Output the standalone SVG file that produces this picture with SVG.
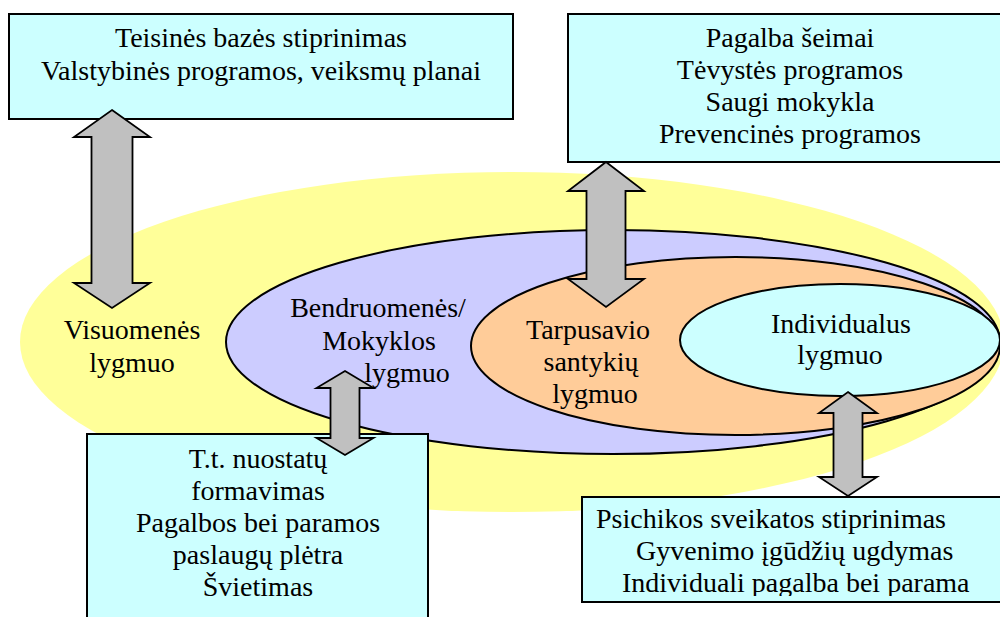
<svg xmlns="http://www.w3.org/2000/svg" width="1000" height="617" viewBox="0 0 1000 617">
<style>
.box{fill:#CCFFFF;stroke:#000;stroke-width:2}
.ell{stroke:#000;stroke-width:2}
.arr{fill:#C0C0C0;stroke:#000;stroke-width:1.8;stroke-linejoin:miter}
.t{font-family:'Liberation Serif','DejaVu Serif','Times New Roman',serif;font-size:28px;fill:#000}
.c{text-anchor:middle}
</style>
<defs>
<clipPath id="clipBR"><rect x="582" y="497" width="430" height="99"/></clipPath>
</defs>
<rect width="1000" height="617" fill="#fff"/>
<g id="levels">
<ellipse id="visuomenes" cx="512" cy="342" rx="492" ry="170" fill="#FFFF99"/>
<ellipse id="bendruomenes" class="ell" cx="613" cy="342" rx="387" ry="112" fill="#CCCCFF"/>
<ellipse id="tarpusavio" class="ell" cx="735.5" cy="346" rx="264.5" ry="89" fill="#FFCC99"/>
<ellipse id="individualus" class="ell" cx="840" cy="340" rx="160" ry="56" fill="#CCFFFF"/>
</g>
<g id="box-teisines">
<rect class="box" x="9" y="14" width="504" height="105"/>
<g class="t" font-family="Liberation Serif, DejaVu Serif, serif">
<text class="c" x="261" y="47">Teisinės bazės stiprinimas</text>
<text class="c" x="261" y="80">Valstybinės programos, veiksmų planai</text>
</g>
</g>
<g id="box-pagalba">
<rect class="box" x="568" y="14" width="445" height="148"/>
<g class="t" font-family="Liberation Serif, DejaVu Serif, serif">
<text class="c" x="790" y="47">Pagalba šeimai</text>
<text class="c" x="790" y="79">Tėvystės programos</text>
<text class="c" x="790" y="111">Saugi mokykla</text>
<text class="c" x="790" y="143">Prevencinės programos</text>
</g>
</g>
<g id="box-tt">
<rect class="box" x="87" y="434" width="341" height="200"/>
<g class="t" font-family="Liberation Serif, DejaVu Serif, serif">
<text class="c" x="258" y="468">T.t. nuostatų</text>
<text class="c" x="258" y="500">formavimas</text>
<text class="c" x="258" y="532">Pagalbos bei paramos</text>
<text class="c" x="258" y="564">paslaugų plėtra</text>
<text class="c" x="258" y="596">Švietimas</text>
</g>
</g>
<g id="box-psichikos">
<rect class="box" x="582" y="497" width="430" height="105"/>
<g clip-path="url(#clipBR)" class="t" font-family="Liberation Serif, DejaVu Serif, serif">
<text x="596" y="528">Psichikos sveikatos stiprinimas</text>
<text x="636" y="560">Gyvenimo įgūdžių ugdymas</text>
<text x="622" y="592">Individuali pagalba bei parama</text>
</g>
</g>
<g id="connectors">
<polygon class="arr" points="112,110 150,137 132.5,137 132.5,283 150,283 112,308 74,283 91.5,283 91.5,137 74,137"/>
<polygon class="arr" points="606,162 644,191 625.5,191 625.5,279 644,279 606,307 568,279 586.5,279 586.5,191 568,191"/>
<polygon class="arr" points="345,371 373.5,388 359.5,388 359.5,438 373.5,438 345,455 316.5,438 330.5,438 330.5,388 316.5,388"/>
<polygon class="arr" points="848,392 877,413 862.5,413 862.5,477 877,477 848,496 819,477 833.5,477 833.5,413 819,413"/>
</g>
<g id="labels" class="t" font-family="Liberation Serif, DejaVu Serif, serif">
<text class="c" x="132" y="339">Visuomenės</text>
<text class="c" x="132" y="372">lygmuo</text>
<text class="c" x="378" y="317">Bendruomenės/</text>
<text class="c" x="379" y="350">Mokyklos</text>
<text class="c" x="407" y="382">lygmuo</text>
<text class="c" x="588" y="339">Tarpusavio</text>
<text class="c" x="591" y="371">santykių</text>
<text class="c" x="595" y="403">lygmuo</text>
<text class="c" x="841" y="333">Individualus</text>
<text class="c" x="840" y="364">lygmuo</text>
</g>
</svg>
